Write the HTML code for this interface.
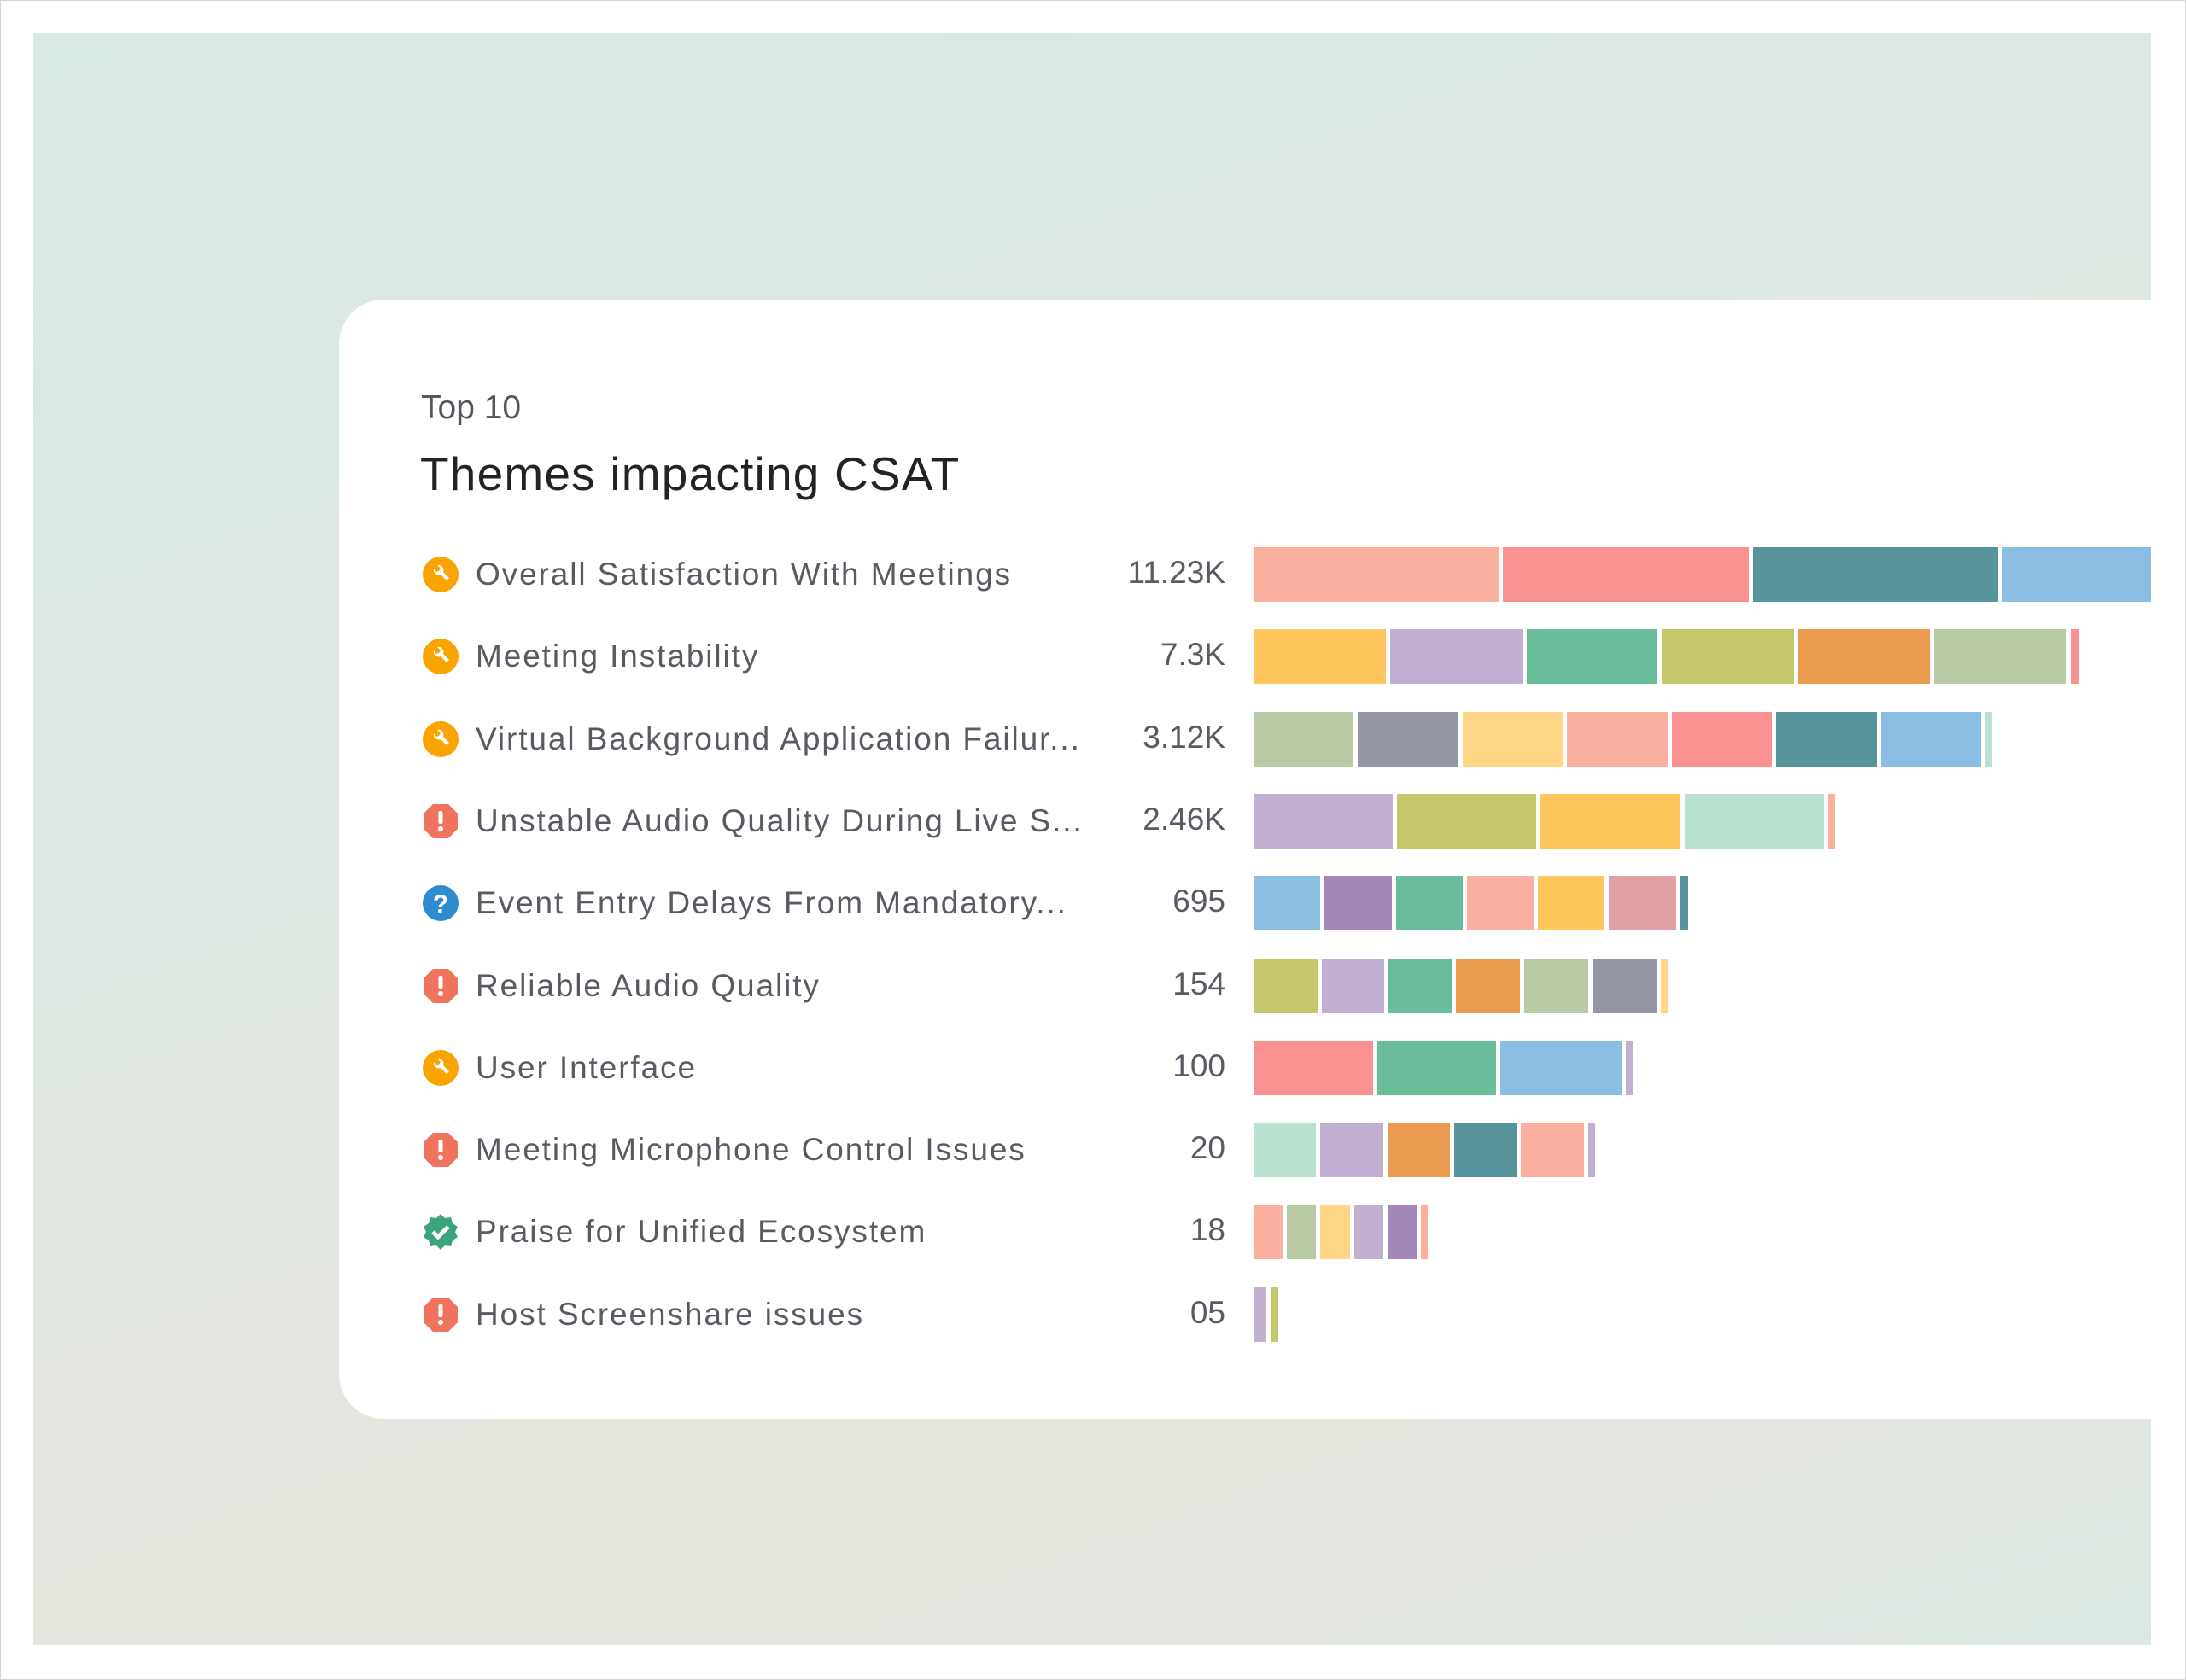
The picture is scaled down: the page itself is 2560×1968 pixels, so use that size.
<!DOCTYPE html>
<html><head><meta charset="utf-8">
<style>
html,body{margin:0;padding:0;}
body{width:2560px;height:1968px;position:relative;background:#fff;overflow:hidden;font-family:"Liberation Sans",sans-serif;}
#frame{position:absolute;left:0;top:0;width:2558px;height:1966px;border:1px solid #d6d6d6;}
#bg{position:absolute;left:39px;top:39px;width:2480px;height:1888px;overflow:hidden;
 background:linear-gradient(160deg,#d9e9e3 0%,#dfe8e2 40%,#e6e6de 70%,#e4e6df 85%,#dbe8e2 100%);}
#card{position:absolute;left:358px;top:312px;width:2300px;height:1311px;background:#fff;border-radius:52px;}
.sub{position:absolute;left:493px;top:456px;font-size:39px;color:#55565c;}
.title{position:absolute;left:492px;top:523px;font-size:55px;color:#222327;letter-spacing:1.2px;}
.lbl{position:absolute;left:557px;font-size:37px;color:#5a5b62;white-space:nowrap;line-height:44px;letter-spacing:1.9px;}
.val{position:absolute;right:1125px;font-size:37px;color:#5a5b62;line-height:44px;text-align:right;}
.ico{position:absolute;left:495px;width:42px;height:42px;}
.seg{position:absolute;}
</style></head>
<body>
<div id="frame"></div>
<div id="bg">
  <div id="card"></div>
</div>
<div class="sub">Top 10</div>
<div class="title">Themes impacting CSAT</div>
<div id="chart"></div>
<script>
const categories=["Overall Satisfaction With Meetings","Meeting Instability","Virtual Background Application Failur...","Unstable Audio Quality During Live S...","Event Entry Delays From Mandatory...","Reliable Audio Quality","User Interface","Meeting Microphone Control Issues","Praise for Unified Ecosystem","Host Screenshare issues"];
const valueLabels=["11.23K","7.3K","3.12K","2.46K","695","154","100","20","18","05"];
const iconTypes=["wrench","wrench","wrench","alert","question","alert","wrench","alert","check","alert"];
const segments=[
 [179,179,179,179],
 [98,98,97,98,97,98,6],
 [75,75,75,75,75,75,75,5],
 [103,103,103,103,5],
 [51,51,51,51,51,51,6],
 [49,48,48,49,49,49,5],
 [89,88,90,5],
 [48,48,48,48,48,5],
 [24,24,24,24,24,5],
 [12,6]
];
const segColors=[
 ["salmon","pink","teal","blue"],
 ["yellow","lavender","green","olive","orange","sage","pink"],
 ["sage","gray","lightyellow","salmon","pink","teal","blue","mint"],
 ["lavender","olive","yellow","mint","salmon"],
 ["blue","purple","green","salmon","yellow","rose","teal"],
 ["olive","lavender","green","orange","sage","gray","lightyellow"],
 ["pink","green","blue","lavender"],
 ["mint","lavender","orange","teal","salmon","lavender"],
 ["salmon","sage","lightyellow","lavender","purple","salmon"],
 ["lavender","olive"]
];
const palette={salmon:"#F9B09F",pink:"#F99191",teal:"#57949B",blue:"#89BDE2",yellow:"#FEC65C",lavender:"#C2B0D2",green:"#6ABD9B",olive:"#C4C76A",orange:"#EB9B4F",sage:"#B9CAA5",gray:"#9497A3",lightyellow:"#FFD686",mint:"#B9E1CF",purple:"#A288BA",rose:"#E0A0A6"};
const X0=1468, XMAX=2519, K=1.6327, GAP=5, ROW0=673, PITCH=96.3, BH=64;
function xScale(v){return X0+v*K;}
function yScale(i){return ROW0+i*PITCH;}
const chart=document.getElementById('chart');
const icons={
 wrench:'<circle cx="21" cy="21" r="21" fill="#F9A400"/><path d="M13 14 a6 6 0 0 0 8 7 l7 7 3-3-7-7 a6 6 0 0 0-7-8 l4 4-2 3-3 1z" fill="#fff"/>',
 alert:'<polygon points="12,1 30,1 41,12 41,30 30,41 12,41 1,30 1,12" fill="#EF735D"/><rect x="18.5" y="9" width="5" height="15" rx="2" fill="#fff"/><circle cx="21" cy="30" r="3" fill="#fff"/>',
 question:'<circle cx="21" cy="21" r="21" fill="#2F8BD0"/><text x="21" y="32" font-size="30" font-weight="bold" text-anchor="middle" fill="#fff" font-family="Liberation Sans,sans-serif">?</text>',
 check:'<polygon points="21,0 26,5 33,4 35,11 41,15 38,21 41,27 35,31 33,38 26,37 21,42 16,37 9,38 7,31 1,27 4,21 1,15 7,11 9,4 16,5" fill="#3AA57A"/><path d="M12 21 l6 6 12-12" stroke="#fff" stroke-width="5" fill="none"/>'
};
categories.forEach((c,i)=>{
  const cy=yScale(i);
  const ic=document.createElementNS('http://www.w3.org/2000/svg','svg');
  ic.setAttribute('class','ico');ic.setAttribute('viewBox','0 0 42 42');
  ic.style.top=(cy-21)+'px';
  ic.innerHTML=icons[iconTypes[i]];
  
  
  chart.appendChild(ic);
  const l=document.createElement('div');l.className='lbl';l.textContent=c;l.style.top=(cy-22)+'px';
  
  
  chart.appendChild(l);
  const v=document.createElement('div');v.className='val';v.textContent=valueLabels[i];v.style.top=(cy-24)+'px';
  
  
  chart.appendChild(v);
  let acc=0;
  segments[i].forEach((s,j)=>{
    const x1=xScale(acc), x2=Math.min(xScale(acc+s)-(j<segments[i].length-1?GAP:0), XMAX);
    acc+=s;
    if(x1>=XMAX) return;
    const d=document.createElement('div');d.className='seg';
    d.style.left=x1+'px';d.style.width=Math.max(0,x2-x1)+'px';
    d.style.top=(cy-BH/2)+'px';d.style.height=BH+'px';
    d.style.background=palette[segColors[i][j]];
    
    
    chart.appendChild(d);
  });
});
</script>
</body></html>
